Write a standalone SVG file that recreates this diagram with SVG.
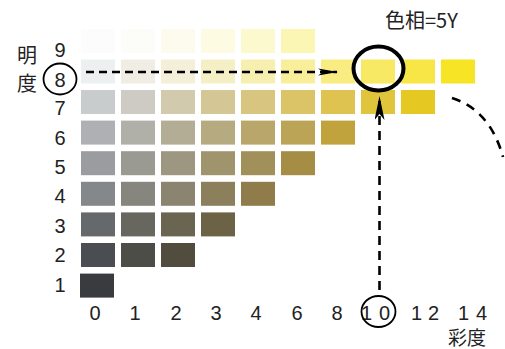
<svg xmlns="http://www.w3.org/2000/svg" width="505" height="349" viewBox="0 0 505 349">
<style>
text{font-family:"Noto Sans CJK JP","Liberation Sans",sans-serif;fill:#222;}
.d{font-family:"Liberation Sans","Noto Sans CJK JP",sans-serif;font-size:20px;text-anchor:middle;}
.n{font-family:"Liberation Sans","Noto Sans CJK JP",sans-serif;font-size:20px;}
.j{font-size:20px;}
.dash{fill:none;stroke:#000;stroke-width:2.6;}
</style>
<defs>
<marker id="ah" viewBox="0 0 20 8" refX="19" refY="4" markerWidth="20" markerHeight="8" markerUnits="userSpaceOnUse" orient="auto">
<path d="M20,4 L0,0.5 L5,4 L0,7.5 Z" fill="#000"/>
</marker>
<marker id="av" viewBox="0 0 24 10" refX="23" refY="5" markerWidth="24" markerHeight="10" markerUnits="userSpaceOnUse" orient="auto">
<path d="M24,5 L0,0 L6,5 L0,10 Z" fill="#000"/>
</marker>
</defs>
<rect width="505" height="349" fill="#fff"/>
<g id="chart">
<g id="row9">
<rect x="81" y="29" width="34" height="24" fill="#fcfcfc"/>
<rect x="121" y="29" width="34" height="24" fill="#fcfcf9"/>
<rect x="161" y="29" width="34" height="24" fill="#fcfbee"/>
<rect x="201" y="29" width="34" height="24" fill="#fdfbe2"/>
<rect x="241" y="29" width="34" height="24" fill="#fdf9cf"/>
<rect x="281" y="29" width="34" height="24" fill="#fcf6b4"/>
</g>
<g id="row8">
<rect x="81" y="59.5" width="34" height="24" fill="#edf0f0"/>
<rect x="121" y="59.5" width="34" height="24" fill="#f0ede4"/>
<rect x="161" y="59.5" width="34" height="24" fill="#f3efd8"/>
<rect x="201" y="59.5" width="34" height="24" fill="#f5efc6"/>
<rect x="241" y="59.5" width="34" height="24" fill="#f7efb0"/>
<rect x="281" y="59.5" width="34" height="24" fill="#f9ef9a"/>
<rect x="321" y="59.5" width="34" height="24" fill="#f9ec80"/>
<rect x="361" y="59.5" width="34" height="24" fill="#f8e965"/>
<rect x="401" y="59.5" width="34" height="24" fill="#f7e646"/>
<rect x="441" y="59.5" width="34" height="24" fill="#f6e425"/>
</g>
<g id="row7">
<rect x="81" y="90" width="34" height="24" fill="#c9cccd"/>
<rect x="121" y="90" width="34" height="24" fill="#cdcbc3"/>
<rect x="161" y="90" width="34" height="24" fill="#d2caac"/>
<rect x="201" y="90" width="34" height="24" fill="#d5c795"/>
<rect x="241" y="90" width="34" height="24" fill="#d8c57f"/>
<rect x="281" y="90" width="34" height="24" fill="#dbc468"/>
<rect x="321" y="90" width="34" height="24" fill="#dec350"/>
<rect x="361" y="90" width="34" height="24" fill="#e0c53c"/>
<rect x="401" y="90" width="34" height="24" fill="#e6c823"/>
</g>
<g id="row6">
<rect x="81" y="120.6" width="34" height="24" fill="#aeb0b3"/>
<rect x="121" y="120.6" width="34" height="24" fill="#b0afa8"/>
<rect x="161" y="120.6" width="34" height="24" fill="#b4ad95"/>
<rect x="201" y="120.6" width="34" height="24" fill="#b6aa80"/>
<rect x="241" y="120.6" width="34" height="24" fill="#b9a66b"/>
<rect x="281" y="120.6" width="34" height="24" fill="#bca457"/>
<rect x="321" y="120.6" width="34" height="24" fill="#c1a33e"/>
</g>
<g id="row5">
<rect x="81" y="151.2" width="34" height="24" fill="#9a9c9f"/>
<rect x="121" y="151.2" width="34" height="24" fill="#9a9992"/>
<rect x="161" y="151.2" width="34" height="24" fill="#9d9680"/>
<rect x="201" y="151.2" width="34" height="24" fill="#a0946d"/>
<rect x="241" y="151.2" width="34" height="24" fill="#a2905b"/>
<rect x="281" y="151.2" width="34" height="24" fill="#a68d46"/>
</g>
<g id="row4">
<rect x="81" y="181.8" width="34" height="24" fill="#85888b"/>
<rect x="121" y="181.8" width="34" height="24" fill="#86867f"/>
<rect x="161" y="181.8" width="34" height="24" fill="#8a8470"/>
<rect x="201" y="181.8" width="34" height="24" fill="#8c7f5c"/>
<rect x="241" y="181.8" width="34" height="24" fill="#8f7c4a"/>
</g>
<g id="row3">
<rect x="81" y="212.4" width="34" height="24" fill="#66696c"/>
<rect x="121" y="212.4" width="34" height="24" fill="#67675f"/>
<rect x="161" y="212.4" width="34" height="24" fill="#696551"/>
<rect x="201" y="212.4" width="34" height="24" fill="#6c6246"/>
</g>
<g id="row2">
<rect x="81" y="243" width="34" height="24" fill="#4a4e52"/>
<rect x="121" y="243" width="34" height="24" fill="#4d4d48"/>
<rect x="161" y="243" width="34" height="24" fill="#524c3f"/>
</g>
<g id="row1">
<rect x="80" y="273.6" width="34" height="24" fill="#393b3e"/>
</g>
</g>
<g id="value-axis">
<text class="j" x="17" y="63">明</text>
<text class="j" x="17" y="91">度</text>
<text class="d" x="60" y="57">9</text>
<ellipse cx="60" cy="79" rx="16.5" ry="15.5" fill="none" stroke="#000" stroke-width="1.8"/>
<text class="d" x="60" y="87">8</text>
<text class="d" x="60" y="115">7</text>
<text class="d" x="60" y="145">6</text>
<text class="d" x="60" y="174">5</text>
<text class="d" x="60" y="203">4</text>
<text class="d" x="60" y="233">3</text>
<text class="d" x="60" y="262">2</text>
<text class="d" x="60" y="292">1</text>
</g>
<g id="chroma-axis">
<text class="d" x="95" y="320">0</text>
<text class="d" x="135" y="320">1</text>
<text class="d" x="176" y="320">2</text>
<text class="d" x="216" y="320">3</text>
<text class="d" x="256" y="320">4</text>
<text class="d" x="297" y="320">6</text>
<text class="d" x="337" y="320">8</text>
<text class="n" x="361 379" y="320">10</text>
<ellipse cx="378.5" cy="311.5" rx="17" ry="15.5" fill="none" stroke="#000" stroke-width="1.8"/>
<text class="n" x="411 428" y="320">12</text>
<text class="n" x="458 476" y="320">14</text>
<text x="448" y="345" font-size="19" font-family="'Liberation Sans','Noto Sans CJK JP',sans-serif">彩度</text>
</g>
<g id="hue-label">
<text class="j" x="385" y="28">色相=5Y</text>
</g>
<g id="selected">
<ellipse cx="378.5" cy="68.5" rx="25" ry="22" fill="none" stroke="#000" stroke-width="4"/>
</g>
<g id="connectors">
<path class="dash" d="M86,72 H337" stroke-dasharray="8,5" marker-end="url(#ah)"/>
<path class="dash" d="M379.5,290 V97" stroke-dasharray="9,6" marker-end="url(#av)"/>
<path class="dash" d="M452,98 Q490,110 503,157" stroke-dasharray="9,7"/>
</g>
</svg>
